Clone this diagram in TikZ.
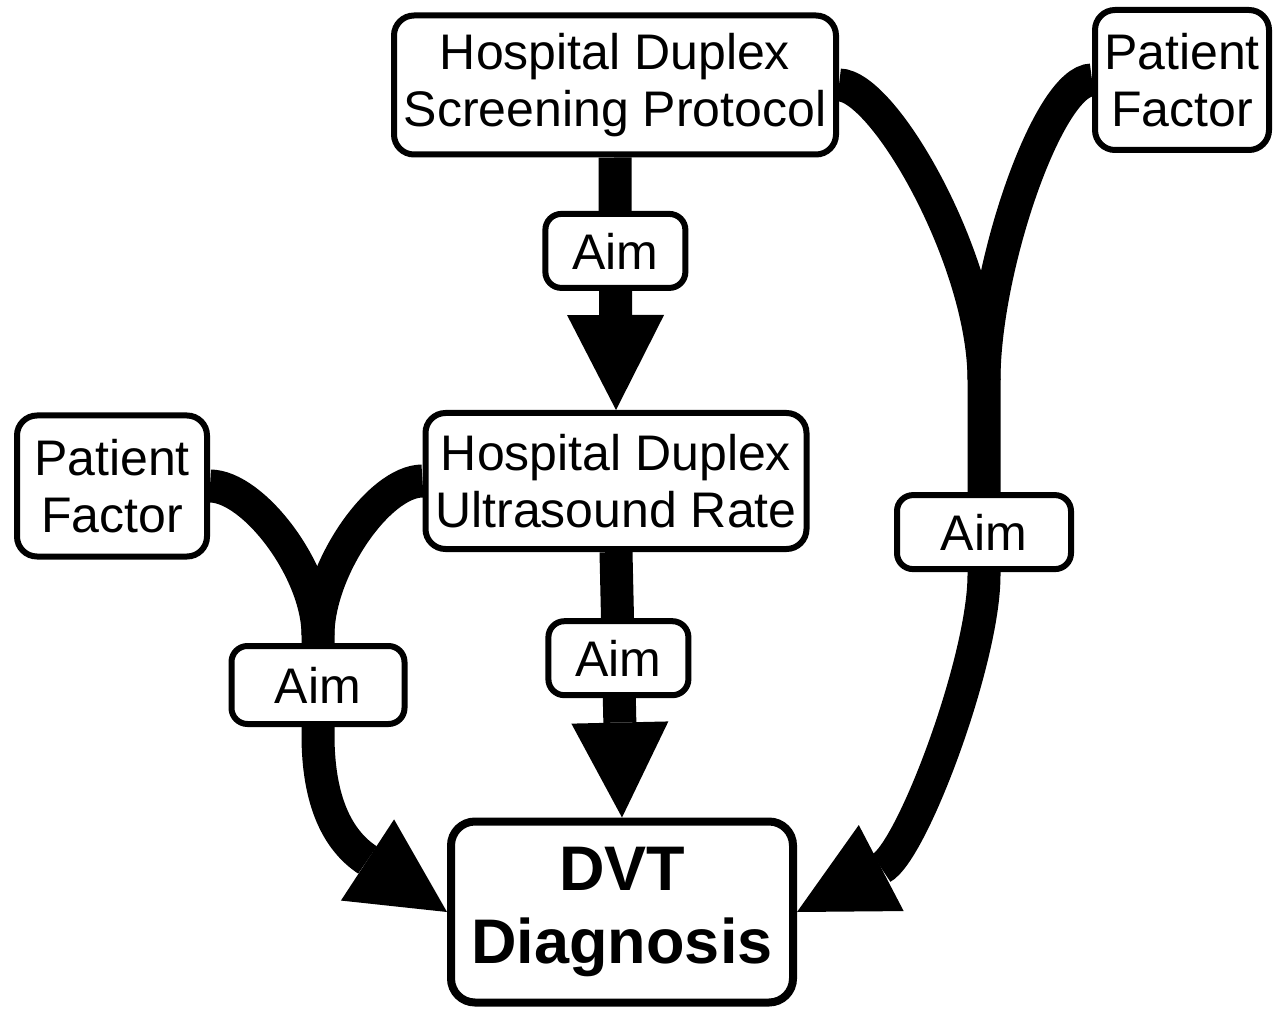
\documentclass[tikz,border=0pt]{standalone}
\usepackage{fontspec}
\setmainfont{Liberation Sans}
\usetikzlibrary{arrows.meta}

\begin{document}
\begin{tikzpicture}[x=0.5pt,y=-0.5pt,
		box/.style={draw,line width=3pt,rounded corners=10pt,fill=white,align=center,inner sep=0pt,font=\fontsize{25}{28.5}\selectfont},
		aim/.style={box,rounded corners=8pt,minimum width=70pt,minimum height=37pt},
		flow/.style={line width=16.5pt},
		tip/.style={flow,-{Triangle[length=47.5pt,width=48.5pt,line width=0pt]}}]
		\useasboundingbox (0,0) rectangle (1274,1010);

		\node[box,minimum width=221pt,minimum height=69.5pt] (hdsp) at (615,85) {Hospital Duplex\\Screening Protocol};
		\node[box,minimum width=87pt,minimum height=70pt] (tpf) at (1182,80) {Patient\\Factor};
		\node[box,minimum width=95pt,minimum height=70.5pt] (lpf) at (112,486) {Patient\\Factor};
		\node[box,minimum width=190.5pt,minimum height=68pt] (hdur) at (616,481) {Hospital Duplex\\Ultrasound Rate};
		\node[box,line width=4pt,rounded corners=12pt,minimum width=171pt,minimum height=90.5pt,font=\fontsize{31.5}{36.5}\selectfont\bfseries] (dvt) at (622,912) {DVT\\Diagnosis};

		\coordinate (lmerge) at (318,635);
		\coordinate (lbend) at (318,735);
		\coordinate (rmerge) at (984,380);
		\coordinate (rbend) at (984,575);

		% branches into the two curved aims
		\draw[flow] (lpf.east) to[out=0,in=90,out looseness=.6,in looseness=.9] (lmerge);
		\draw[flow] (hdur.west) to[out=180,in=90,out looseness=.6,in looseness=.9] (lmerge);
		\draw[flow] (hdsp.east) to[out=0,in=90,out looseness=.35,in looseness=.93] (rmerge);
		\draw[flow] (tpf.west) to[out=180,in=90,out looseness=.35,in looseness=.9] (rmerge);

		\draw[tip] (hdsp.south) -- node[aim,pos=.37] (aim1) {Aim} (hdur.north);
		\draw[tip] (hdur.south) -- node[aim,pos=.4] (aim2) {Aim} (dvt.north);
		\draw[tip] (lmerge) -- node[aim,minimum width=86.5pt,minimum height=39pt] (aim3) {Aim} (lbend)
			.. controls (318,800) and (337,840) .. (dvt.west);
		\draw[tip] (rmerge) -- node[aim,minimum width=87pt,pos=.78] (aim4) {Aim} (rbend)
			.. controls (984,660) and (912,852) .. (dvt.east);
	\end{tikzpicture}
\end{document}
